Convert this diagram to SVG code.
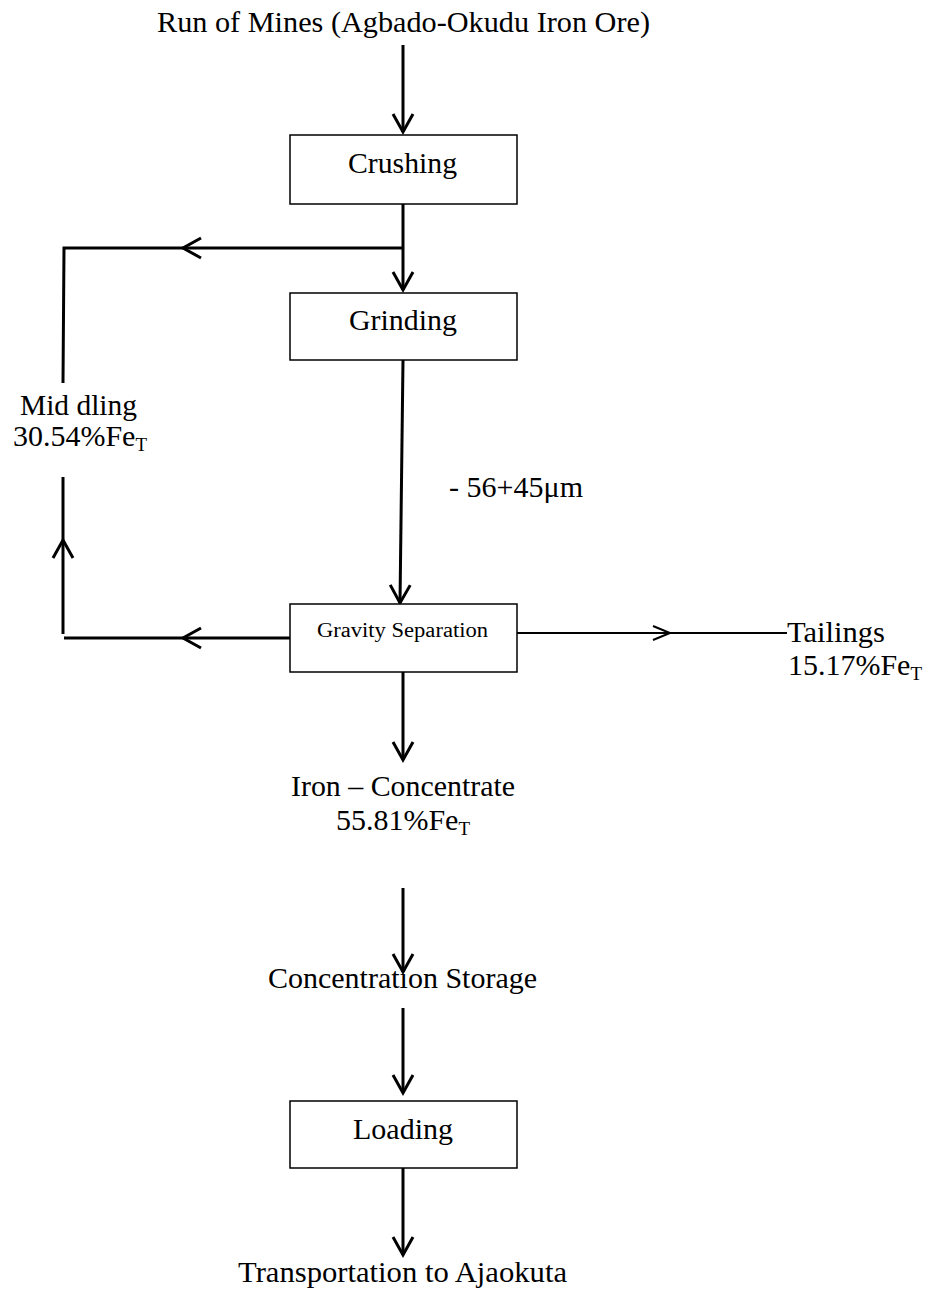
<svg xmlns="http://www.w3.org/2000/svg" width="930" height="1293" viewBox="0 0 930 1293">
<style>
  text { font-family: 'Liberation Serif', 'Times New Roman', Times, serif; fill: #000; }
  .t { font-size: 30px; }
  .s { font-size: 20px; }
  .sub { font-size: 19px; }
  .box { fill: #fff; stroke: #000; stroke-width: 1.5; }
  .c { fill: none; stroke: #000; stroke-width: 3; }
  .ct { fill: none; stroke: #000; stroke-width: 2; }
</style>
<defs>
  <marker id="ah" markerUnits="userSpaceOnUse" markerWidth="30" markerHeight="30" refX="0" refY="0" viewBox="-20 -15 25 30" orient="auto" overflow="visible">
    <path d="M-18,-10 L0,0 L-18,10" fill="none" stroke="#000" stroke-width="3"/>
  </marker>
  <marker id="aht" markerUnits="userSpaceOnUse" markerWidth="30" markerHeight="30" refX="0" refY="0" viewBox="-20 -15 25 30" orient="auto" overflow="visible">
    <path d="M-17,-7 L0,0 L-17,7" fill="none" stroke="#000" stroke-width="2"/>
  </marker>
</defs>
<rect width="930" height="1293" fill="#fff"/>

<g id="connectors">
  <line class="c" x1="403" y1="45" x2="403" y2="132" marker-end="url(#ah)"/>
  <line class="c" x1="403" y1="204" x2="403" y2="290" marker-end="url(#ah)"/>
  <line class="c" x1="403" y1="248" x2="183" y2="248" marker-end="url(#ah)"/>
  <polyline class="c" points="183,248 64,248 63,383"/>
  <line class="c" x1="403" y1="360" x2="400" y2="603" marker-end="url(#ah)"/>
  <line class="c" x1="290" y1="638" x2="183" y2="638" marker-end="url(#ah)"/>
  <line class="c" x1="183" y1="638" x2="64" y2="638"/>
  <line class="c" x1="63" y1="634" x2="63" y2="540" marker-end="url(#ah)"/>
  <line class="c" x1="63" y1="540" x2="63" y2="477"/>
  <line class="ct" x1="517" y1="633" x2="670" y2="633" marker-end="url(#aht)"/>
  <line class="ct" x1="670" y1="633" x2="787" y2="633"/>
  <line class="c" x1="403" y1="672" x2="403" y2="760" marker-end="url(#ah)"/>
  <line class="c" x1="403" y1="888" x2="403" y2="972" marker-end="url(#ah)"/>
  <line class="c" x1="403" y1="1008" x2="403" y2="1093" marker-end="url(#ah)"/>
  <line class="c" x1="403" y1="1168" x2="403" y2="1255" marker-end="url(#ah)"/>
</g>

<g id="run-of-mines">
  <text class="t" x="157" y="32" textLength="493" lengthAdjust="spacingAndGlyphs">Run of Mines (Agbado-Okudu Iron Ore)</text>
</g>
<g id="crushing">
  <rect class="box" x="290" y="135" width="227" height="69"/>
  <text class="t" x="348" y="173" textLength="109" lengthAdjust="spacingAndGlyphs">Crushing</text>
</g>
<g id="grinding">
  <rect class="box" x="290" y="293" width="227" height="67"/>
  <text class="t" x="349" y="330" textLength="108" lengthAdjust="spacingAndGlyphs">Grinding</text>
</g>
<g id="middling">
  <text class="t" x="20" y="415" textLength="117" lengthAdjust="spacingAndGlyphs">Mid dling</text>
  <text class="t" x="13" y="446" textLength="134" lengthAdjust="spacingAndGlyphs">30.54%Fe<tspan class="sub" dy="5">T</tspan></text>
</g>
<g id="size-label">
  <text class="t" x="449" y="497" textLength="134" lengthAdjust="spacingAndGlyphs">- 56+45μm</text>
</g>
<g id="gravity-separation">
  <rect class="box" x="290" y="604" width="227" height="68"/>
  <text class="s" x="317" y="637" textLength="171" lengthAdjust="spacingAndGlyphs">Gravity Separation</text>
</g>
<g id="tailings">
  <text class="t" x="787" y="642" textLength="98" lengthAdjust="spacingAndGlyphs">Tailings</text>
  <text class="t" x="788" y="675" textLength="134" lengthAdjust="spacingAndGlyphs">15.17%Fe<tspan class="sub" dy="5">T</tspan></text>
</g>
<g id="iron-concentrate">
  <text class="t" x="291" y="796" textLength="224" lengthAdjust="spacingAndGlyphs">Iron – Concentrate</text>
  <text class="t" x="336" y="830" textLength="134" lengthAdjust="spacingAndGlyphs">55.81%Fe<tspan class="sub" dy="5">T</tspan></text>
</g>
<g id="concentration-storage">
  <text class="t" x="268" y="988" textLength="269" lengthAdjust="spacingAndGlyphs">Concentration Storage</text>
</g>
<g id="loading">
  <rect class="box" x="290" y="1101" width="227" height="67"/>
  <text class="t" x="353" y="1139" textLength="100" lengthAdjust="spacingAndGlyphs">Loading</text>
</g>
<g id="transportation">
  <text class="t" x="238" y="1282" textLength="329" lengthAdjust="spacingAndGlyphs">Transportation to Ajaokuta</text>
</g>
</svg>
